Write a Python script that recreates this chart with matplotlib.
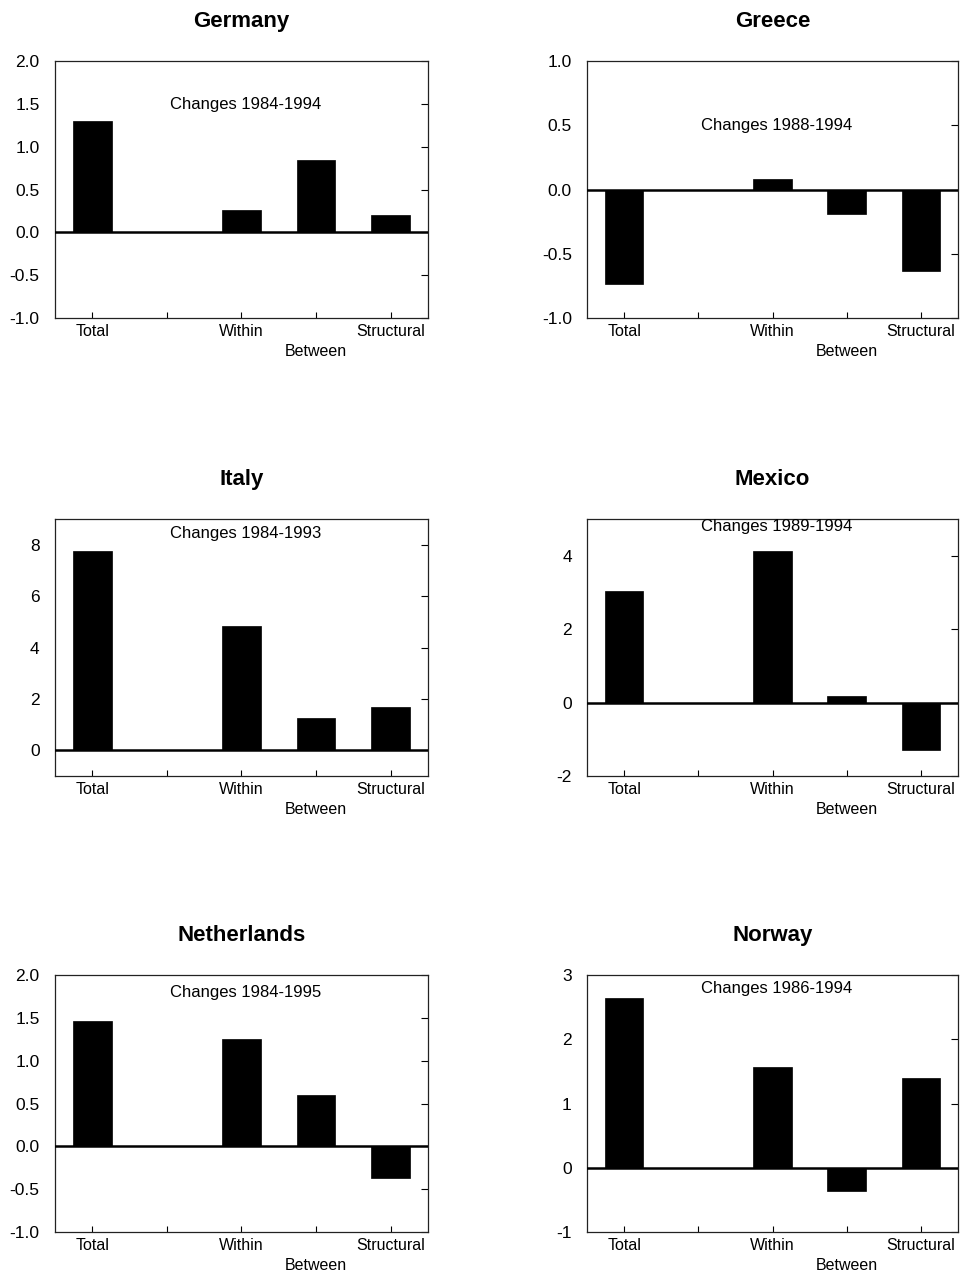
import numpy as np
import matplotlib
matplotlib.use("Agg")
import matplotlib.pyplot as plt

plt.rcParams["font.family"] = ["Liberation Sans", "DejaVu Sans"]

# slot 2 is an unlabeled gap on the x axis
categories = ["Total", "", "Within", "Between", "Structural"]
bar_cats = ["Total", "Within", "Between", "Structural"]

countries = ["Germany", "Greece", "Italy", "Mexico", "Netherlands", "Norway"]
periods = ["Changes 1984-1994", "Changes 1988-1994", "Changes 1984-1993",
           "Changes 1989-1994", "Changes 1984-1995", "Changes 1986-1994"]

germany = [1.30, 0.26, 0.85, 0.20]
greece = [-0.735, 0.083, -0.187, -0.637]
italy = [7.77, 4.83, 1.24, 1.68]
mexico = [3.04, 4.13, 0.18, -1.29]
netherlands = [1.47, 1.25, 0.60, -0.37]
norway = [2.64, 1.57, -0.36, 1.40]

ylims = [(-1, 2), (-1, 1), (-1, 9), (-2, 5), (-1, 2), (-1, 3)]
yticks = [np.arange(-1, 2.01, 0.5), np.arange(-1, 1.01, 0.5), [0, 2, 4, 6, 8],
          [-2, 0, 2, 4], np.arange(-1, 2.01, 0.5), [-1, 0, 1, 2, 3]]
yfmt = ["%.1f", "%.1f", "%d", "%d", "%.1f", "%d"]
note_y = [1.5, 0.5, 8.45, 4.8, 1.8, 2.8]

series = [germany, greece, italy, mexico, netherlands, norway]

fig = plt.figure(figsize=(9.6, 12.74), dpi=100)
lefts = [0.0573, 0.6115]
bottoms = [0.7504, 0.3909, 0.0330]
W = [0.3885, 0.3865]
H = 0.2015

xpos = [categories.index(c) + 1 for c in bar_cats]
for i, name in enumerate(countries):
    r, c = divmod(i, 2)
    ax = fig.add_axes([lefts[c], bottoms[r], W[c], H])
    ax.bar(xpos, series[i], width=0.52, color="black", edgecolor="black", linewidth=0.5, zorder=2)
    ax.axhline(0, color="black", lw=1.8, zorder=3)
    ax.set_xlim(0.5, 5.5)
    ax.set_ylim(*ylims[i])
    ax.set_yticks(yticks[i])
    ax.set_yticklabels([yfmt[i] % v for v in yticks[i]])
    ax.set_xticks(range(1, 6))
    ax.set_xticklabels(["\n" + s if s == "Between" else s for s in categories], fontsize=11.5)
    # "Between" sits on a lower line, a bit further down than a plain newline
    ax.get_xticklabels()[categories.index("Between")].set_linespacing(1.45)
    ax.yaxis.set_ticks_position("right")
    ax.tick_params(axis="y", direction="in", length=5, width=0.8, labelleft=True,
                   labelright=False, labelsize=12.5, pad=11)
    ax.tick_params(axis="x", direction="in", length=4, width=0.8, pad=4)
    for sp in ax.spines.values():
        sp.set_linewidth(0.9)
        sp.set_color("#222222")
    ax.text(3.05, note_y[i], periods[i], ha="center", va="center", fontsize=12)
    ax.set_title(name, fontsize=16, fontweight="bold", pad=25)

fig.savefig("out.png", dpi=100)
